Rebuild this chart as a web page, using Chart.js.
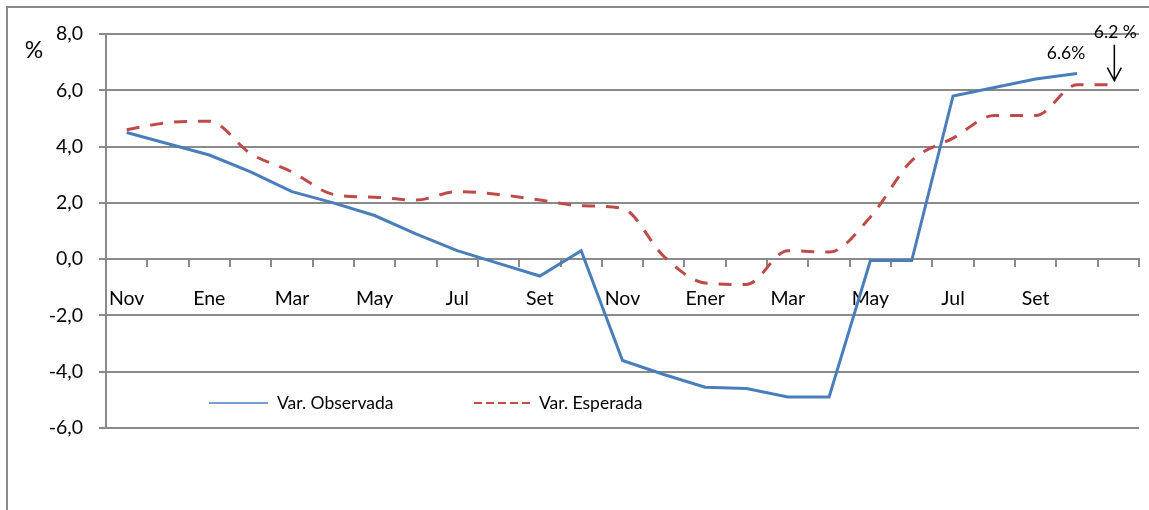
<!DOCTYPE html>
<html>
<head>
<meta charset="utf-8">
<script src="https://cdn.jsdelivr.net/npm/chart.js@4.4.1/dist/chart.umd.min.js"></script>
<style>
html, body { margin: 0; padding: 0; background: #fff; overflow: hidden; }
#wrap { position: relative; width: 1149px; height: 510px; }
#frame { position: absolute; left: 6px; top: 6px; width: 1200px; height: 600px;
         border-left: 2px solid #8a8a8a; border-top: 2px solid #8a8a8a; }
canvas { position: absolute; left: 0; top: 0; }
</style>
</head>
<body>
<div id="wrap">
  <div id="frame"></div>
  <canvas id="c" width="1149" height="510"></canvas>
</div>
<script>
// monthly categories, only every other month is labelled
const monthLabels = ['Nov','','Ene','','Mar','','May','','Jul','','Set','',
                     'Nov','','Ener','','Mar','','May','','Jul','','Set','',''];
const observada = [4.5, 4.1, 3.7, 3.1, 2.4, 2.0, 1.55, 0.9, 0.3, -0.15, -0.6, 0.3,
                   -3.6, -4.1, -4.55, -4.6, -4.9, -4.9, -0.05, -0.05, 5.8, 6.1, 6.4, 6.6, null];
const esperada = [4.6, 4.85, 4.9, 3.75, 3.1, 2.3, 2.2, 2.1, 2.4, 2.3, 2.1, 1.9,
                  1.8, 0.1, -0.85, -0.9, 0.3, 0.25, 1.5, 3.5, 4.3, 5.1, 5.1, 6.2, 6.2];
const yMin = -6, yMax = 8, yStep = 2;
const notes = [
  { series: 0, index: 23, text: '6.6%' },
  { series: 1, index: 24, text: '6.2 %' }
];

const BLUE = '#4a7ebb';
const RED = '#be4b48';
const GRID = '#8a8a8a';

Chart.defaults.font.family = 'Lato, "Open Sans", sans-serif';
Chart.defaults.color = '#000';

// title, legend inside the plot and the two value notes
const extras = {
  id: 'extras',
  afterDatasetsDraw(chart) {
    const { ctx, chartArea, scales: { x, y } } = chart;
    ctx.save();
    ctx.fillStyle = '#000';
    ctx.textBaseline = 'middle';

    ctx.font = '23px Lato';
    ctx.textAlign = 'center';
    ctx.fillText('%', chartArea.left - 72, chartArea.top + 17);

    // legend
    const ly = 403;
    const items = [
      { ds: chart.data.datasets[0], x0: 209, x1: 268, dash: [], w: 1.5 },
      { ds: chart.data.datasets[1], x0: 474, x1: 530, dash: [8, 4], w: 2 }
    ];
    ctx.font = '17.5px Lato';
    ctx.textAlign = 'left';
    items.forEach(it => {
      ctx.strokeStyle = it.ds.borderColor;
      ctx.lineWidth = it.w;
      ctx.setLineDash(it.dash);
      ctx.beginPath();
      ctx.moveTo(it.x0, ly);
      ctx.lineTo(it.x1, ly);
      ctx.stroke();
      ctx.fillText(it.ds.label, it.x1 + 9, ly);
    });
    ctx.setLineDash([]);

    // value notes
    ctx.font = '17.5px Lato';
    ctx.textAlign = 'center';
    notes.forEach(n => {
      const v = chart.data.datasets[n.series].data[n.index];
      const px = x.getPixelForValue(n.index);
      const py = y.getPixelForValue(v);
      if (n.series === 0) {
        ctx.fillText(n.text, px - 11, py - 20);
      } else {
        ctx.fillText(n.text, px - 3, py - 52);
        const ax = px - 4;
        ctx.strokeStyle = '#000';
        ctx.lineWidth = 1.5;
        ctx.beginPath();
        ctx.moveTo(ax, py - 40);
        ctx.lineTo(ax, py - 4);
        ctx.moveTo(ax - 7, py - 17);
        ctx.lineTo(ax, py - 4);
        ctx.lineTo(ax + 7, py - 17);
        ctx.stroke();
      }
    });
    ctx.restore();
  }
};

new Chart(document.getElementById('c'), {
  type: 'line',
  data: {
    labels: monthLabels,
    datasets: [
      {
        label: 'Var. Observada',
        data: observada,
        borderColor: BLUE,
        borderWidth: 3,
        pointRadius: 0,
        tension: 0,
        fill: false
      },
      {
        label: 'Var. Esperada',
        data: esperada,
        borderColor: RED,
        borderWidth: 3,
        borderDash: [13, 11],
        borderCapStyle: 'butt',
        pointRadius: 0,
        cubicInterpolationMode: 'monotone',
        fill: false
      }
    ]
  },
  options: {
    responsive: false,
    animation: false,
    layout: { padding: { left: 0, top: 34, right: 10, bottom: 82 } },
    plugins: {
      legend: { display: false },
      tooltip: { enabled: false }
    },
    scales: {
      y: {
        min: yMin,
        max: yMax,
        afterFit(scale) { scale.width = 106; },
        ticks: {
          stepSize: yStep,
          padding: 16,
          font: { size: 19.5 },
          callback: v => v.toFixed(1).replace('.', ',')
        },
        grid: { color: GRID, lineWidth: 2, tickLength: 7 },
        border: { color: GRID, width: 2 }
      },
      x: {
        position: { y: 0 },
        offset: true,
        ticks: {
          autoSkip: false,
          maxRotation: 0,
          padding: 21,
          font: { size: 19.5 }
        },
        grid: { offset: true, drawOnChartArea: false, color: GRID, lineWidth: 2, tickLength: 7 },
        border: { color: GRID, width: 2 }
      }
    }
  },
  plugins: [extras]
});
</script>
</body>
</html>
